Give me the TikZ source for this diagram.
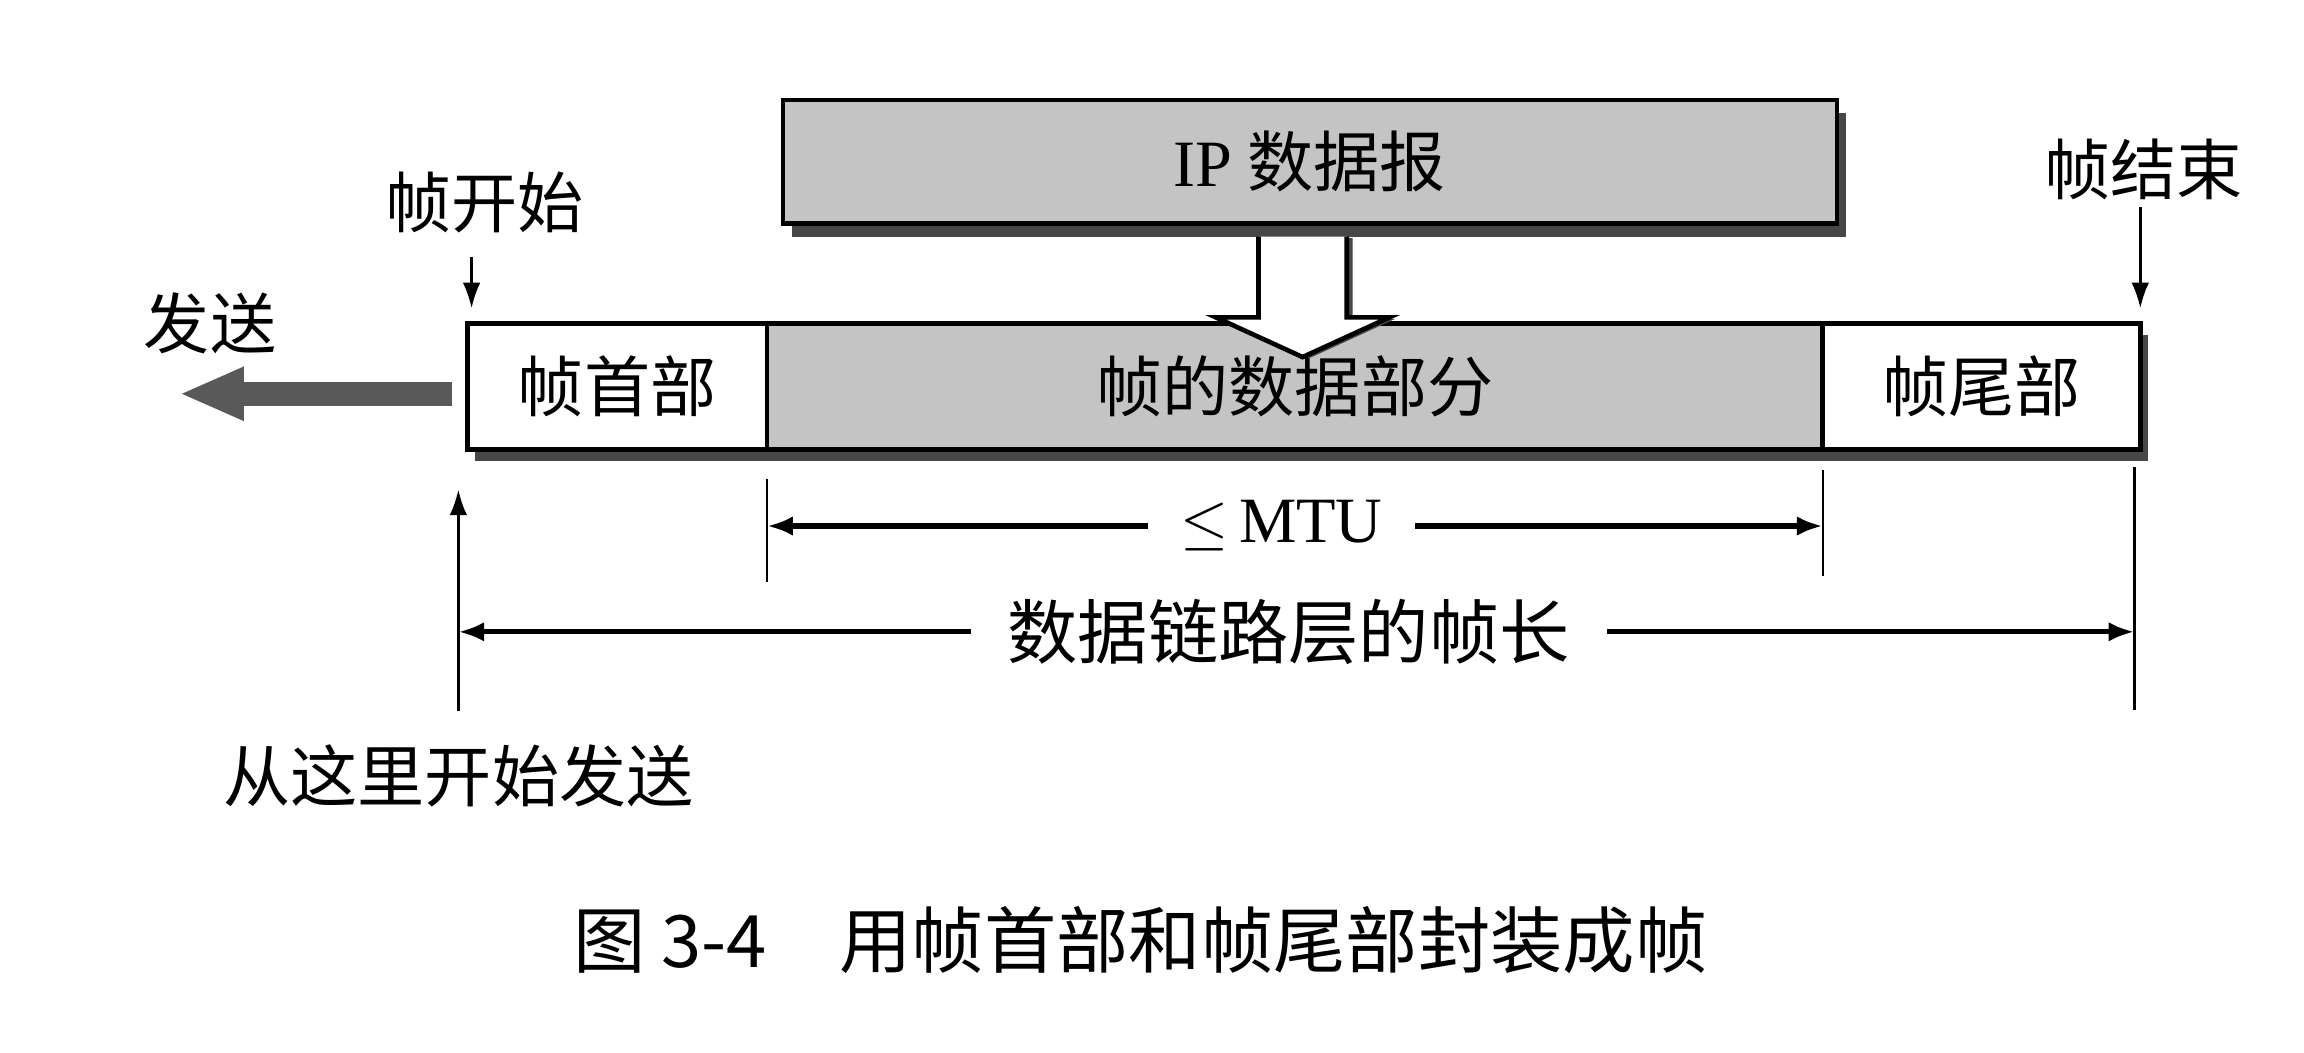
\documentclass[tikz,border=0pt]{standalone}
\usepackage{fontspec}
\setmainfont{Liberation Serif}
\newfontfamily\cjk{Noto Sans CJK SC}
\usetikzlibrary{arrows.meta,backgrounds,calc}
\begin{document}
\begin{tikzpicture}[x=0.01cm,y=-0.01cm,
  every node/.style={inner sep=0pt,outer sep=0pt},
  lbl/.style={font=\cjk\fontsize{12.8pt}{14pt}\selectfont},
  part/.style={draw=black,line width=0.9pt,fill=white,minimum height=0.86cm,font=\cjk\fontsize{12.8pt}{14pt}\selectfont},
  shaded/.style={fill=gray!46},
  sdw/.style={fill=black!72},
  hollow/.style={draw=black,line width=0.9pt,fill=white},
  dimline/.style={line width=1pt,-{Latex[length=5pt,width=3.8pt]}},
  pointer/.style={line width=0.6pt,-{Latex[length=5pt,width=3.4pt]}},
  tickline/.style={line width=0.45pt},
  sendarrow/.style={line width=4.6pt,black!65,-{Triangle[length=12.5pt,width=9.5pt]}}
]
\useasboundingbox (0,0) rectangle (1568,716);

% IP datagram
\node[part,shaded,minimum width=7.17cm,minimum height=0.84cm] (ip) at (891.5,110) {{\rmfamily IP} 数据报};

% frame parts
\node[part,minimum width=2.04cm] (hdr) at (420,263) {帧首部};
\node[part,shaded,minimum width=7.18cm,anchor=west] (data) at (hdr.east) {帧的数据部分};
\node[part,minimum width=2.16cm,anchor=west] (trl) at (data.east) {帧尾部};

% shadows
\begin{scope}[on background layer]
\fill[sdw] ([shift={(6,9)}]ip.north west) rectangle ([shift={(6,9)}]ip.south east);
\fill[sdw] ([shift={(5,8)}]hdr.north west) rectangle ([shift={(5,8)}]trl.south east);
\end{scope}

% hollow arrow from IP datagram into the data part
\coordinate (hc) at ($(ip.south)+(-5,0)$);
\fill[sdw] ($(hc)+(-26,10)$) -- ($(hc)+(34,10)$) -- ($(hc)+(34,65)$) -- ($(hc)+(63,65)$) -- ($(hc)+(4,92)$) -- cycle;
\filldraw[hollow] ($(hc)+(-30,9)$) -- ($(hc)+(-30,64)$) -- ($(hc)+(-59,64)$) -- ($(hc)+(0,91)$) -- ($(hc)+(59,64)$) -- ($(hc)+(30,64)$) -- ($(hc)+(30,9)$);

% sending direction
\node[lbl] (send) at (143,220) {发送};
\coordinate (sendtip) at ($(hdr.west)+(-196,5)$);
\draw[sendarrow] ($(hdr.west)+(-10,5)$) -- (sendtip);

% frame start / end
\node[lbl] (fs) at (330,138) {帧开始};
\draw[pointer] ($(fs.south -| hdr.north west)+(3,16)$) -- ($(hdr.north west)+(3,-10)$);
\node[lbl] (fe) at (1459,115) {帧结束};
\draw[pointer] ($(fe.south -| trl.north east)+(0,5)$) -- ($(trl.north east)+(0,-10)$);

% extension lines
\coordinate (st) at ($(hdr.south west)+(-6,0)$);
\coordinate (en) at ($(trl.south east)+(-4,0)$);
\draw[tickline] ($(hdr.south east)+(0,20)$) -- ($(hdr.south east)+(0,90)$);
\draw[tickline] ($(data.south east)+(0,14)$) -- ($(data.south east)+(0,86)$);
\draw[tickline] ($(en)+(0,12)$) -- ($(en)+(0,177)$);

% <= MTU
\node[font=\fontsize{12.5pt}{14pt}\selectfont] (mtu) at (872,358) {$\leq$\,MTU};
\draw[dimline,shorten <=0.22cm] (mtu.west) -- (mtu.west -| hdr.south east);
\draw[dimline,shorten <=0.22cm] (mtu.east) -- (mtu.east -| data.south east);

% frame length
\node[lbl,font=\cjk\fontsize{13.6pt}{15pt}\selectfont] (flen) at (877,430) {数据链路层的帧长};
\draw[dimline,shorten <=0.25cm] (flen.west) -- (flen.west -| st);
\draw[dimline,shorten <=0.25cm] (flen.east) -- (flen.east -| en);

% start of sending
\node[lbl,font=\cjk\fontsize{13pt}{15pt}\selectfont] (here) at (312,528) {从这里开始发送};
\draw[pointer] ($(here.north -| st)+(0,-23)$) -- ($(st)+(0,27)$);

% caption
\node[font=\cjk\fontsize{14pt}{16pt}\selectfont] (cap) at (776,640) {图 3-4\quad 用帧首部和帧尾部封装成帧};
\end{tikzpicture}
\end{document}
